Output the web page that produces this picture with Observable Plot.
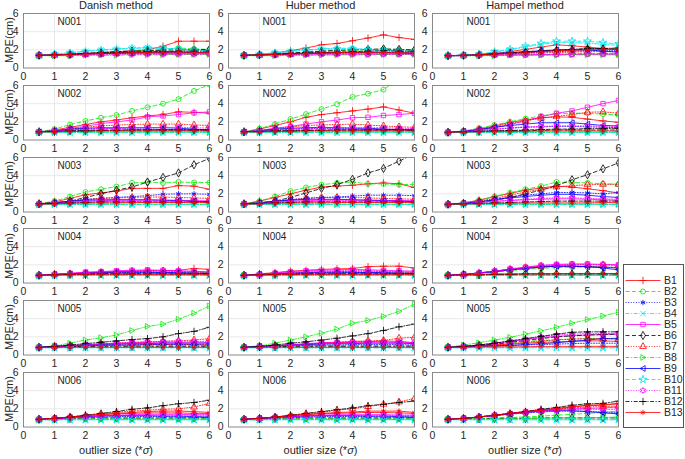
<!DOCTYPE html>
<html><head><meta charset="utf-8">
<script src="https://cdn.jsdelivr.net/npm/d3@7"></script>
<script src="https://cdn.jsdelivr.net/npm/@observablehq/plot@0.6"></script>
<style>
body{margin:0;background:#fff;}
#wrap{position:relative;width:685px;height:459px;overflow:hidden;background:#fff;font-family:"Liberation Sans",Arial,Helvetica,sans-serif;color:#262626;}
.title{position:absolute;font-size:11px;white-space:nowrap;transform:translateX(-50%);}
.ylab{position:absolute;font-size:11px;white-space:nowrap;line-height:12px;transform:translate(-50%,-50%) rotate(-90deg);}
</style></head>
<body><div id="wrap"></div>
<script>
const xs = [0.5,1,1.5,2,2.5,3,3.5,4,4.5,5,5.5,6];
const seriesNames = ["B1","B2","B3","B4","B5","B6","B7","B8","B9","B10","B11","B12","B13"];
const methodTitles = ["Danish method","Huber method","Hampel method"];
const datasetNames = ["N001","N002","N003","N004","N005","N006"];
const xTicks = [0,1,2,3,4,5,6];
const yTicks = [0,2,4,6];
const yLabel = "MPE(cm)";

// ---- Danish method ----
const danishN001 = [
[1.4,1.4,1.5,1.6,1.7,1.8,1.9,2.0,2.4,2.95,2.95,2.95],
[1.4,1.45,1.5,1.55,1.65,1.75,1.85,1.95,2.05,2.2,2.1,2.05],
[1.4,1.45,1.5,1.55,1.6,1.65,1.7,1.7,1.75,1.75,1.7,1.7],
[1.4,1.5,1.7,1.85,2.0,2.1,2.2,2.25,2.2,2.1,2.0,1.9],
[1.4,1.4,1.45,1.5,1.55,1.6,1.6,1.6,1.6,1.6,1.6,1.6],
[1.4,1.45,1.5,1.6,1.7,1.8,1.85,1.9,1.95,2.0,2.0,2.05],
[1.4,1.4,1.45,1.5,1.55,1.6,1.6,1.65,1.65,1.65,1.65,1.65],
[1.35,1.35,1.35,1.4,1.4,1.4,1.45,1.45,1.45,1.5,1.5,1.5],
[1.4,1.45,1.5,1.55,1.6,1.65,1.7,1.75,1.75,1.75,1.7,1.7],
[1.4,1.5,1.65,1.8,1.95,2.05,2.15,2.2,2.15,2.05,1.95,1.85],
[1.4,1.4,1.4,1.45,1.45,1.5,1.5,1.5,1.5,1.5,1.5,1.5],
[1.4,1.45,1.5,1.6,1.65,1.7,1.75,1.8,1.8,1.85,1.85,1.85],
[1.4,1.45,1.5,1.55,1.6,1.65,1.7,1.7,1.75,1.75,1.7,1.7]];
const danishN002 = [
[0.9,1.1,1.4,1.7,2.0,2.2,2.45,2.65,2.8,3.1,3.05,2.95],
[0.9,1.2,1.7,2.1,2.45,2.75,3.2,3.6,4.0,4.5,5.4,6.1],
[0.9,1.0,1.1,1.2,1.25,1.25,1.2,1.2,1.15,1.15,1.1,1.1],
[0.85,0.85,0.9,0.9,0.9,0.9,0.9,0.9,0.9,0.9,0.9,0.9],
[0.9,1.0,1.3,1.5,1.8,2.0,2.2,2.55,2.65,2.8,3.0,3.1],
[0.9,0.95,1.0,1.05,1.1,1.1,1.1,1.1,1.1,1.1,1.1,1.1],
[0.9,1.0,1.2,1.4,1.55,1.65,1.7,1.75,1.75,1.75,1.65,1.6],
[0.85,0.85,0.85,0.85,0.85,0.85,0.85,0.85,0.85,0.85,0.85,0.85],
[0.9,1.0,1.2,1.3,1.35,1.35,1.35,1.35,1.35,1.3,1.2,1.1],
[0.85,0.85,0.85,0.85,0.85,0.85,0.85,0.85,0.85,0.85,0.85,0.85],
[0.9,1.0,1.1,1.2,1.25,1.3,1.35,1.35,1.4,1.4,1.35,1.3],
[0.9,0.95,1.0,1.0,1.05,1.05,1.1,1.1,1.1,1.1,1.1,1.1],
[0.9,0.9,0.95,0.95,1.0,1.0,1.0,1.0,1.0,1.0,1.0,1.0]];
const danishN003 = [
[0.9,1.1,1.5,1.9,2.1,2.3,2.6,2.6,2.6,2.9,2.85,2.5],
[0.9,1.2,1.7,2.2,2.5,2.8,3.2,3.3,3.2,3.3,3.25,3.25],
[0.9,1.0,1.2,1.4,1.5,1.6,1.7,1.8,1.95,2.0,2.0,1.95],
[0.8,0.85,0.85,0.85,0.85,0.85,0.85,0.85,0.85,0.85,0.85,0.85],
[0.9,1.0,1.1,1.2,1.25,1.3,1.3,1.3,1.3,1.3,1.25,1.2],
[0.9,1.0,1.2,1.6,2.0,2.4,2.75,3.3,3.8,4.3,5.2,5.9],
[0.9,1.0,1.2,1.35,1.5,1.55,1.6,1.65,1.65,1.6,1.55,1.5],
[0.85,0.85,0.85,0.85,0.85,0.85,0.85,0.85,0.85,0.85,0.85,0.85],
[0.9,1.0,1.2,1.3,1.35,1.35,1.35,1.35,1.3,1.25,1.2,1.1],
[0.8,0.85,0.85,0.85,0.85,0.85,0.85,0.85,0.85,0.85,0.85,0.85],
[0.9,0.95,1.05,1.1,1.15,1.2,1.2,1.2,1.2,1.2,1.2,1.2],
[0.9,0.95,1.0,1.05,1.1,1.1,1.1,1.1,1.1,1.1,1.1,1.1],
[0.85,0.9,0.95,1.0,1.0,1.0,1.05,1.05,1.05,1.05,1.05,1.05]];
const danishN004 = [
[0.85,0.95,1.05,1.15,1.2,1.25,1.3,1.35,1.35,1.4,1.6,1.5],
[0.85,0.9,0.95,1.0,1.05,1.1,1.1,1.15,1.15,1.2,1.2,1.2],
[0.85,0.95,1.0,1.05,1.1,1.15,1.15,1.15,1.15,1.1,1.05,1.05],
[0.8,0.85,0.85,0.85,0.85,0.85,0.85,0.85,0.85,0.85,0.85,0.85],
[0.85,0.95,1.05,1.2,1.25,1.35,1.4,1.45,1.4,1.35,1.3,1.2],
[0.85,0.9,0.95,0.95,1.0,1.0,1.0,1.0,1.0,1.0,1.0,1.0],
[0.85,0.95,1.0,1.1,1.15,1.2,1.25,1.3,1.3,1.25,1.2,1.15],
[0.85,0.85,0.85,0.85,0.85,0.85,0.85,0.85,0.85,0.85,0.85,0.85],
[0.85,0.95,1.0,1.1,1.15,1.2,1.2,1.2,1.15,1.15,1.1,1.05],
[0.8,0.85,0.85,0.85,0.85,0.85,0.85,0.85,0.85,0.85,0.85,0.85],
[0.85,0.95,1.05,1.15,1.2,1.3,1.35,1.4,1.35,1.3,1.25,1.2],
[0.85,0.9,0.95,0.95,1.0,1.0,1.0,1.0,1.0,1.0,1.0,1.0],
[0.85,0.9,0.9,0.95,0.95,0.95,0.95,0.95,0.95,0.95,0.95,0.95]];
const danishN005 = [
[0.85,0.9,0.95,1.0,1.05,1.1,1.1,1.15,1.15,1.2,1.15,1.1],
[0.85,0.9,0.95,1.0,1.0,1.05,1.05,1.05,1.05,1.05,1.05,1.05],
[0.85,0.9,0.95,1.0,1.05,1.1,1.1,1.15,1.15,1.15,1.15,1.1],
[0.8,0.8,0.8,0.8,0.8,0.8,0.8,0.8,0.8,0.8,0.8,0.8],
[0.85,0.95,1.05,1.15,1.25,1.3,1.35,1.4,1.4,1.4,1.4,1.4],
[0.85,0.9,0.9,0.95,0.95,0.95,0.95,0.95,0.95,0.95,0.95,0.95],
[0.85,0.95,1.0,1.1,1.2,1.3,1.35,1.45,1.5,1.55,1.65,1.8],
[0.85,1.0,1.3,1.65,1.9,2.2,2.7,3.15,3.4,3.95,4.6,5.4],
[0.85,0.95,1.0,1.1,1.15,1.2,1.25,1.25,1.3,1.3,1.3,1.3],
[0.8,0.8,0.8,0.8,0.8,0.8,0.8,0.8,0.8,0.8,0.8,0.8],
[0.85,0.9,1.0,1.1,1.2,1.3,1.4,1.45,1.5,1.55,1.5,1.5],
[0.85,0.95,1.1,1.25,1.4,1.55,1.7,1.8,2.0,2.35,2.6,3.05],
[0.8,0.85,0.85,0.85,0.85,0.85,0.85,0.85,0.85,0.85,0.85,0.85]];
const danishN006 = [
[0.85,0.95,1.1,1.25,1.35,1.45,1.5,1.55,1.55,1.55,1.5,1.5],
[0.8,0.85,0.85,0.9,0.9,0.9,0.9,0.9,0.9,0.9,0.9,0.9],
[0.85,0.9,1.0,1.05,1.1,1.15,1.15,1.15,1.15,1.1,1.1,1.05],
[0.8,0.8,0.8,0.8,0.8,0.8,0.8,0.8,0.8,0.8,0.8,0.8],
[0.85,0.95,1.05,1.15,1.25,1.3,1.35,1.4,1.4,1.4,1.35,1.35],
[0.85,0.9,0.95,1.0,1.0,1.0,1.0,1.0,1.0,1.0,1.0,1.0],
[0.85,0.95,1.1,1.25,1.45,1.6,1.75,1.85,1.95,2.0,2.2,2.6],
[0.8,0.8,0.85,0.85,0.85,0.85,0.85,0.85,0.85,0.85,0.85,0.85],
[0.85,0.95,1.05,1.15,1.2,1.25,1.25,1.25,1.2,1.2,1.15,1.1],
[0.8,0.8,0.8,0.8,0.8,0.8,0.8,0.8,0.8,0.8,0.8,0.8],
[0.85,0.9,1.0,1.1,1.2,1.25,1.3,1.3,1.3,1.3,1.3,1.3],
[0.85,0.95,1.1,1.3,1.5,1.7,1.95,2.1,2.35,2.55,2.7,2.95],
[0.85,0.95,1.1,1.25,1.4,1.5,1.6,1.7,1.75,1.75,1.7,1.6]];

// ---- Huber method ----
const huberN001 = [
[1.4,1.5,1.65,1.9,2.2,2.55,2.7,3.0,3.3,3.65,3.35,3.15],
[1.4,1.45,1.5,1.6,1.7,1.8,1.9,1.95,2.0,2.1,2.0,1.95],
[1.4,1.45,1.5,1.55,1.6,1.65,1.7,1.7,1.75,1.75,1.7,1.7],
[1.4,1.5,1.7,1.85,2.0,2.1,2.2,2.15,2.05,1.95,1.9,1.85],
[1.4,1.4,1.45,1.5,1.55,1.55,1.55,1.55,1.55,1.55,1.55,1.55],
[1.4,1.45,1.55,1.65,1.75,1.85,1.95,2.0,2.05,2.1,2.05,2.0],
[1.4,1.4,1.45,1.5,1.55,1.6,1.6,1.65,1.65,1.65,1.65,1.6],
[1.35,1.35,1.35,1.4,1.4,1.4,1.45,1.45,1.45,1.5,1.5,1.5],
[1.4,1.45,1.5,1.55,1.6,1.65,1.7,1.7,1.7,1.7,1.65,1.6],
[1.4,1.5,1.65,1.8,1.95,2.05,2.1,2.1,2.0,1.95,1.85,1.8],
[1.4,1.4,1.4,1.45,1.45,1.5,1.5,1.5,1.5,1.5,1.5,1.5],
[1.4,1.45,1.5,1.6,1.65,1.7,1.75,1.8,1.85,1.9,1.85,1.85],
[1.4,1.45,1.5,1.55,1.6,1.65,1.7,1.7,1.7,1.7,1.7,1.65]];
const huberN002 = [
[0.9,1.2,1.6,2.0,2.5,2.8,3.0,3.2,3.4,3.65,3.3,2.95],
[0.9,1.25,1.75,2.3,2.85,3.4,3.95,4.75,5.1,5.55,6.7,7.6],
[0.9,1.0,1.1,1.2,1.25,1.25,1.25,1.2,1.2,1.15,1.15,1.1],
[0.85,0.85,0.9,0.9,0.9,0.9,0.9,0.9,0.9,0.9,0.9,0.9],
[0.9,1.05,1.3,1.5,1.75,2.0,2.2,2.45,2.5,2.7,2.8,2.95],
[0.9,0.95,1.0,1.05,1.1,1.1,1.1,1.1,1.1,1.1,1.1,1.05],
[0.9,1.0,1.25,1.45,1.6,1.65,1.7,1.75,1.65,1.55,1.45,1.4],
[0.85,0.85,0.85,0.85,0.85,0.85,0.85,0.85,0.85,0.85,0.85,0.85],
[0.9,1.0,1.2,1.3,1.35,1.4,1.35,1.3,1.3,1.2,1.15,1.1],
[0.85,0.85,0.85,0.85,0.85,0.85,0.85,0.85,0.85,0.85,0.85,0.85],
[0.9,1.0,1.1,1.2,1.25,1.3,1.35,1.35,1.35,1.35,1.3,1.25],
[0.9,0.95,1.0,1.0,1.05,1.05,1.1,1.1,1.1,1.1,1.1,1.1],
[0.9,0.9,0.95,0.95,1.0,1.0,1.0,1.0,1.0,1.0,1.0,1.0]];
const huberN003 = [
[0.9,1.2,1.6,2.0,2.4,2.75,2.85,2.95,3.1,3.2,3.1,2.7],
[0.9,1.2,1.7,2.3,2.7,3.0,3.2,3.3,3.1,3.1,3.0,3.05],
[0.9,1.0,1.2,1.35,1.5,1.6,1.65,1.75,1.85,1.85,1.85,1.8],
[0.8,0.85,0.85,0.85,0.85,0.85,0.85,0.85,0.85,0.85,0.85,0.85],
[0.9,1.0,1.1,1.2,1.25,1.3,1.3,1.3,1.3,1.3,1.25,1.25],
[0.9,1.0,1.2,1.6,2.1,2.6,3.0,3.6,4.3,4.8,5.6,6.4],
[0.9,1.0,1.2,1.35,1.5,1.6,1.6,1.6,1.55,1.5,1.45,1.4],
[0.85,0.85,0.85,0.85,0.85,0.85,0.85,0.85,0.85,0.85,0.85,0.85],
[0.9,1.0,1.2,1.3,1.4,1.4,1.4,1.35,1.3,1.25,1.2,1.15],
[0.8,0.85,0.85,0.85,0.85,0.85,0.85,0.85,0.85,0.85,0.85,0.85],
[0.9,0.95,1.05,1.1,1.15,1.2,1.2,1.2,1.2,1.2,1.2,1.2],
[0.9,0.95,1.0,1.05,1.1,1.1,1.1,1.1,1.1,1.1,1.1,1.1],
[0.85,0.9,0.95,1.0,1.0,1.0,1.05,1.05,1.05,1.05,1.05,1.05]];
const huberN004 = [
[0.85,1.0,1.15,1.3,1.4,1.5,1.55,1.6,1.8,1.85,1.85,1.65],
[0.85,0.9,0.95,1.0,1.05,1.1,1.1,1.15,1.15,1.2,1.2,1.2],
[0.85,0.95,1.0,1.05,1.1,1.15,1.15,1.15,1.15,1.1,1.05,1.05],
[0.8,0.85,0.85,0.85,0.85,0.85,0.85,0.85,0.85,0.85,0.85,0.85],
[0.85,0.95,1.1,1.25,1.35,1.4,1.45,1.5,1.45,1.4,1.35,1.3],
[0.85,0.9,0.95,0.95,1.0,1.0,1.0,1.0,1.0,1.0,1.0,1.0],
[0.85,0.95,1.0,1.1,1.15,1.2,1.25,1.3,1.3,1.25,1.2,1.15],
[0.85,0.85,0.85,0.85,0.85,0.85,0.85,0.85,0.85,0.85,0.85,0.85],
[0.85,0.95,1.0,1.1,1.15,1.2,1.2,1.2,1.15,1.15,1.1,1.05],
[0.8,0.85,0.85,0.85,0.85,0.85,0.85,0.85,0.85,0.85,0.85,0.85],
[0.85,0.95,1.05,1.2,1.25,1.3,1.35,1.4,1.35,1.3,1.25,1.2],
[0.85,0.9,0.95,0.95,1.0,1.0,1.0,1.0,1.0,1.0,1.0,1.0],
[0.85,0.9,0.9,0.95,0.95,0.95,0.95,0.95,0.95,0.95,0.95,0.95]];
const huberN005 = [
[0.85,0.9,1.0,1.1,1.2,1.3,1.35,1.4,1.45,1.55,1.5,1.35],
[0.85,0.9,0.95,1.0,1.0,1.05,1.05,1.05,1.05,1.05,1.05,1.05],
[0.85,0.9,0.95,1.0,1.05,1.1,1.1,1.15,1.15,1.15,1.15,1.1],
[0.8,0.8,0.8,0.8,0.8,0.8,0.8,0.8,0.8,0.8,0.8,0.8],
[0.85,0.95,1.05,1.15,1.25,1.35,1.4,1.45,1.45,1.45,1.4,1.35],
[0.85,0.9,0.9,0.95,0.95,0.95,0.95,0.95,0.95,0.95,0.95,0.95],
[0.85,0.95,1.0,1.1,1.2,1.3,1.4,1.5,1.55,1.6,1.85,1.95],
[0.85,1.0,1.3,1.65,2.0,2.4,2.85,3.5,3.8,4.25,4.8,5.6],
[0.85,0.95,1.0,1.1,1.15,1.2,1.25,1.25,1.3,1.3,1.3,1.25],
[0.8,0.8,0.8,0.8,0.8,0.8,0.8,0.8,0.8,0.8,0.8,0.8],
[0.85,0.9,1.0,1.1,1.2,1.3,1.35,1.4,1.4,1.4,1.35,1.3],
[0.85,0.95,1.1,1.3,1.45,1.65,1.85,2.1,2.35,2.7,3.1,3.4],
[0.8,0.85,0.85,0.85,0.85,0.85,0.85,0.85,0.85,0.85,0.85,0.85]];
const huberN006 = [
[0.85,0.95,1.1,1.25,1.35,1.45,1.5,1.55,1.6,1.6,1.55,1.5],
[0.8,0.85,0.85,0.9,0.9,0.9,0.9,0.9,0.9,0.9,0.9,0.9],
[0.85,0.9,1.0,1.05,1.1,1.15,1.15,1.15,1.15,1.1,1.1,1.05],
[0.8,0.8,0.8,0.8,0.8,0.8,0.8,0.8,0.8,0.8,0.8,0.8],
[0.85,0.95,1.05,1.15,1.25,1.3,1.35,1.35,1.35,1.35,1.3,1.3],
[0.85,0.9,0.95,1.0,1.0,1.0,1.0,1.0,1.0,1.0,1.0,1.0],
[0.85,0.95,1.1,1.25,1.45,1.6,1.85,2.0,2.25,2.5,2.75,3.15],
[0.8,0.8,0.85,0.85,0.85,0.85,0.85,0.85,0.85,0.85,0.85,0.85],
[0.85,0.95,1.05,1.15,1.2,1.25,1.25,1.25,1.2,1.2,1.15,1.1],
[0.8,0.8,0.8,0.8,0.8,0.8,0.8,0.8,0.8,0.8,0.8,0.8],
[0.85,0.9,1.0,1.1,1.2,1.25,1.3,1.3,1.3,1.3,1.3,1.3],
[0.85,0.95,1.1,1.3,1.5,1.7,1.9,2.1,2.35,2.5,2.7,2.85],
[0.85,0.95,1.1,1.25,1.4,1.5,1.6,1.65,1.75,1.75,1.75,1.6]];

// ---- Hampel method ----
const hampelN001 = [
[1.35,1.4,1.45,1.6,1.8,2.05,2.3,2.55,2.45,2.3,2.15,2.0],
[1.35,1.35,1.4,1.4,1.45,1.45,1.5,1.5,1.55,1.6,1.6,1.6],
[1.35,1.4,1.45,1.5,1.6,1.65,1.75,1.8,1.85,1.9,1.9,1.9],
[1.35,1.4,1.5,1.75,2.0,2.3,2.6,2.8,2.8,2.75,2.6,2.5],
[1.35,1.35,1.4,1.4,1.45,1.45,1.45,1.5,1.5,1.5,1.5,1.5],
[1.35,1.4,1.45,1.55,1.65,1.75,1.85,1.95,2.0,2.1,2.1,2.1],
[1.35,1.4,1.45,1.5,1.55,1.6,1.65,1.7,1.75,1.8,1.8,1.8],
[1.35,1.35,1.35,1.35,1.4,1.4,1.4,1.4,1.45,1.45,1.45,1.45],
[1.35,1.4,1.5,1.6,1.7,1.8,1.9,2.0,2.0,2.0,1.85,1.75],
[1.35,1.4,1.5,1.8,2.05,2.4,2.7,2.95,2.95,2.95,2.8,2.65],
[1.35,1.35,1.4,1.4,1.45,1.45,1.5,1.5,1.5,1.55,1.55,1.55],
[1.35,1.4,1.45,1.55,1.65,1.75,1.85,1.95,2.05,2.15,2.15,2.2],
[1.35,1.4,1.45,1.55,1.6,1.7,1.8,1.9,1.95,2.0,2.05,2.05]];
const hampelN002 = [
[0.85,0.95,1.2,1.55,1.95,2.2,2.45,2.55,2.5,2.3,2.1,1.95],
[0.85,1.0,1.3,1.65,2.0,2.35,2.65,2.9,2.95,2.95,2.85,2.75],
[0.85,0.95,1.05,1.15,1.3,1.4,1.45,1.5,1.5,1.45,1.4,1.35],
[0.8,0.85,0.85,0.85,0.85,0.85,0.85,0.85,0.85,0.85,0.85,0.85],
[0.85,0.95,1.1,1.35,1.7,2.1,2.55,2.95,3.2,3.6,4.0,4.35],
[0.85,0.9,0.95,1.0,1.0,1.05,1.05,1.1,1.1,1.1,1.1,1.1],
[0.85,0.95,1.15,1.45,1.8,2.1,2.4,2.6,2.8,3.05,3.1,2.95],
[0.85,0.85,0.85,0.85,0.85,0.85,0.85,0.85,0.85,0.85,0.85,0.85],
[0.85,0.95,1.15,1.4,1.6,1.75,1.9,1.9,1.9,1.75,1.6,1.55],
[0.8,0.85,0.85,0.85,0.85,0.85,0.85,0.85,0.85,0.85,0.85,0.85],
[0.85,0.95,1.05,1.2,1.35,1.45,1.5,1.55,1.55,1.55,1.5,1.5],
[0.85,0.9,0.95,1.0,1.05,1.1,1.15,1.2,1.2,1.25,1.25,1.3],
[0.85,0.9,0.9,0.95,0.95,0.95,1.0,1.0,1.0,1.0,1.0,1.0]];
const hampelN003 = [
[0.85,1.0,1.3,1.7,2.05,2.4,2.65,2.85,2.75,2.55,2.35,2.1],
[0.85,1.0,1.3,1.7,2.1,2.5,2.85,3.3,3.25,3.2,3.1,3.05],
[0.85,0.95,1.15,1.4,1.65,1.85,2.0,2.15,2.15,2.1,2.0,2.15],
[0.8,0.85,0.85,0.85,0.85,0.85,0.85,0.85,0.85,0.85,0.85,0.85],
[0.85,0.95,1.05,1.15,1.25,1.35,1.4,1.45,1.45,1.4,1.35,1.3],
[0.85,0.95,1.1,1.3,1.6,2.0,2.4,2.9,3.55,4.1,4.75,5.4],
[0.85,0.95,1.2,1.5,1.85,2.2,2.5,2.75,2.9,3.0,3.05,3.05],
[0.85,0.85,0.85,0.85,0.85,0.85,0.85,0.85,0.85,0.85,0.85,0.85],
[0.85,0.95,1.1,1.35,1.55,1.7,1.85,1.95,1.95,1.85,1.7,1.6],
[0.8,0.85,0.85,0.85,0.85,0.85,0.85,0.85,0.85,0.85,0.85,0.85],
[0.85,0.95,1.05,1.2,1.3,1.4,1.5,1.55,1.55,1.5,1.45,1.4],
[0.85,0.9,0.95,1.0,1.05,1.1,1.15,1.2,1.2,1.2,1.2,1.2],
[0.85,0.9,0.9,0.95,0.95,1.0,1.0,1.0,1.0,1.0,1.05,1.05]];
const hampelN004 = [
[0.85,0.95,1.1,1.3,1.5,1.65,1.8,1.85,1.85,1.8,1.75,1.65],
[0.85,0.95,1.05,1.2,1.35,1.5,1.6,1.7,1.75,1.75,1.75,1.7],
[0.85,0.95,1.1,1.25,1.45,1.6,1.75,1.85,1.85,1.8,1.75,1.7],
[0.8,0.85,0.85,0.85,0.85,0.85,0.85,0.85,0.85,0.85,0.85,0.85],
[0.85,0.95,1.1,1.3,1.55,1.75,1.95,2.05,2.1,2.1,2.05,2.0],
[0.85,0.9,0.9,0.95,0.95,1.0,1.0,1.0,1.0,1.0,1.0,1.0],
[0.85,0.95,1.1,1.3,1.5,1.7,1.85,1.95,2.0,2.0,2.0,1.95],
[0.85,0.85,0.85,0.85,0.85,0.85,0.85,0.85,0.85,0.85,0.85,0.85],
[0.85,0.95,1.1,1.25,1.45,1.6,1.75,1.85,1.85,1.8,1.65,1.45],
[0.8,0.85,0.85,0.85,0.85,0.85,0.85,0.85,0.85,0.85,0.85,0.85],
[0.85,0.95,1.1,1.3,1.5,1.7,1.9,2.0,2.05,2.05,2.0,2.0],
[0.85,0.9,0.9,0.95,0.95,1.0,1.0,1.0,1.0,1.0,1.0,1.0],
[0.85,0.9,0.95,1.0,1.0,1.0,1.0,1.0,1.05,1.05,1.05,1.05]];
const hampelN005 = [
[0.85,0.9,1.0,1.1,1.2,1.3,1.4,1.45,1.5,1.55,1.55,1.5],
[0.85,0.95,1.05,1.2,1.35,1.5,1.6,1.7,1.75,1.8,1.8,1.85],
[0.85,0.9,0.95,1.0,1.05,1.1,1.15,1.2,1.25,1.3,1.3,1.3],
[0.8,0.8,0.8,0.8,0.8,0.8,0.8,0.8,0.8,0.8,0.8,0.8],
[0.85,0.95,1.1,1.3,1.5,1.7,1.9,2.05,2.15,2.2,2.25,2.3],
[0.85,0.95,1.05,1.2,1.4,1.6,1.8,2.0,2.1,2.2,2.25,2.3],
[0.85,0.9,1.0,1.1,1.25,1.4,1.55,1.65,1.75,1.8,1.8,1.75],
[0.85,1.1,1.35,1.65,1.95,2.3,2.65,3.05,3.5,3.9,4.3,4.7],
[0.85,0.9,0.95,1.0,1.05,1.15,1.25,1.35,1.5,1.65,1.8,1.8],
[0.8,0.8,0.8,0.8,0.8,0.8,0.8,0.8,0.8,0.8,0.8,0.8],
[0.85,0.95,1.1,1.3,1.5,1.75,2.0,2.2,2.3,2.35,2.35,2.4],
[0.85,0.95,1.1,1.3,1.55,1.8,2.05,2.3,2.5,2.55,2.55,2.55],
[0.85,0.85,0.9,0.9,0.9,0.9,0.95,0.95,0.95,0.95,0.95,0.95]];
const hampelN006 = [
[0.85,0.95,1.1,1.3,1.5,1.7,1.9,2.05,2.25,2.4,2.45,2.6],
[0.85,0.9,0.95,1.0,1.05,1.1,1.2,1.3,1.4,1.5,1.6,1.75],
[0.85,0.95,1.1,1.25,1.4,1.55,1.65,1.75,1.75,1.7,1.65,1.6],
[0.8,0.8,0.8,0.8,0.8,0.8,0.8,0.8,0.8,0.8,0.8,0.8],
[0.85,0.95,1.1,1.3,1.45,1.65,1.8,1.9,2.0,2.05,2.1,2.2],
[0.85,0.9,0.9,0.95,0.95,0.95,1.0,1.0,1.0,1.0,1.0,1.0],
[0.85,0.95,1.1,1.3,1.45,1.65,1.8,1.95,2.1,2.2,2.25,2.3],
[0.85,0.9,0.9,0.9,0.95,0.95,0.95,1.0,1.0,1.0,1.05,1.1],
[0.85,0.95,1.1,1.25,1.45,1.6,1.75,1.8,1.8,1.7,1.55,1.45],
[0.8,0.8,0.8,0.8,0.8,0.8,0.8,0.8,0.8,0.8,0.8,0.8],
[0.85,0.95,1.1,1.3,1.45,1.6,1.75,1.85,1.9,1.95,1.95,1.95],
[0.85,0.95,1.1,1.3,1.5,1.7,1.95,2.15,2.4,2.55,2.6,2.85],
[0.85,0.95,1.1,1.3,1.5,1.7,1.85,2.0,2.2,2.35,2.4,2.55]];

// ---- styles (MATLAB-like) ----
const seriesColors = ["#ff0000","#00ee00","#0000ff","#00e5ee","#ff00ff","#000000","#ff0000","#00ee00","#0000ff","#00e5ee","#ff00ff","#000000","#ff0000"];
const seriesDash = [null,"4,2.5","1,1.6","4,1.6,1,1.6",null,"4,2.5","1,1.6","4,1.6,1,1.6",null,"4,2.5","1,1.6","4,1.6,1,1.6",null];

const rad = s => Math.sqrt(s / Math.PI);
const triRight = {draw(c, s){ const r = rad(s)*1.15; c.moveTo(r,0); c.lineTo(-r*0.75,-r); c.lineTo(-r*0.75,r); c.closePath(); }};
const triLeft = {draw(c, s){ const r = rad(s)*1.15; c.moveTo(-r,0); c.lineTo(r*0.75,-r); c.lineTo(r*0.75,r); c.closePath(); }};
const hexagram = {draw(c, s){ const r = rad(s)*1.2; for (let k=0;k<12;k++){ const a = -Math.PI/2 + k*Math.PI/6; const rr = k%2 ? r*0.58 : r; const px = rr*Math.cos(a), py = rr*Math.sin(a); if(k===0) c.moveTo(px,py); else c.lineTo(px,py);} c.closePath(); }};
const seriesSymbols = ["plus","circle","asterisk","times","square","diamond","triangle",triRight,triLeft,"star",hexagram,"plus","asterisk"];

const panelData = [
  [danishN001,danishN002,danishN003,danishN004,danishN005,danishN006],
  [huberN001,huberN002,huberN003,huberN004,huberN005,huberN006],
  [hampelN001,hampelN002,hampelN003,hampelN004,hampelN005,hampelN006]
];

// ---- layout ----
const colLeft = [23, 227.5, 432];
const frameW = 186, frameH = 54.5;
const rowTop = datasetNames.map((_, i) => 13 + 71.8 * i);
const mL = 23, mR = 6, mT = 10, mB = 16;
const font = '"Liberation Sans", Arial, Helvetica, sans-serif';
const wrap = document.getElementById("wrap");

function place(el, left, top) {
  el.style.position = "absolute"; el.style.left = left + "px"; el.style.top = top + "px";
  wrap.appendChild(el);
}

methodTitles.forEach((title, c) => {
  datasetNames.forEach((ds, r) => {
    const arr = panelData[c][r];
    const marks = [
      Plot.gridX(xTicks, {stroke: "#e3e3e3", strokeOpacity: 1, strokeWidth: 0.8}),
      Plot.gridY(yTicks.slice(1, 3), {stroke: "#e3e3e3", strokeOpacity: 1, strokeWidth: 0.8})
    ];
    seriesNames.forEach((name, s) => {
      const rows = xs.map((x, i) => ({x, y: arr[s][i], series: name}));
      marks.push(Plot.line(rows, {x: "x", y: "y", stroke: seriesColors[s], strokeWidth: 0.8,
        strokeDasharray: seriesDash[s] ?? undefined, clip: true}));
      marks.push(Plot.dot(rows, {x: "x", y: "y", stroke: seriesColors[s], fill: "none", strokeWidth: 0.8,
        r: 2.5, symbol: seriesSymbols[s], clip: true}));
    });
    marks.push(Plot.frame({stroke: "#8a8a8a", strokeWidth: 1}));
    marks.push(Plot.axisX(xTicks, {tickSize: 0, tickPadding: 5, label: null, fontSize: 10.5}));
    marks.push(Plot.axisY(yTicks, {tickSize: 0, tickPadding: 5, label: null, fontSize: 10.5}));
    marks.push(Plot.text([ds], {frameAnchor: "top-left", dx: 34, dy: 4, lineAnchor: "top", textAnchor: "start", fontSize: 10, fill: "#262626"}));
    const svg = Plot.plot({
      width: frameW + mL + mR, height: frameH + mT + mB,
      marginLeft: mL, marginRight: mR, marginTop: mT, marginBottom: mB,
      x: {domain: [0, 6]}, y: {domain: [0, 6]},
      style: {fontFamily: font, fontSize: "10px", color: "#262626", background: "transparent", overflow: "visible"},
      marks
    });
    place(svg, colLeft[c] - mL, rowTop[r] - mT);
    if (c === 0) {
      const yl = document.createElement("div");
      yl.className = "ylab"; yl.textContent = yLabel;
      yl.style.left = "8.5px"; yl.style.top = (rowTop[r] + frameH / 2) + "px";
      wrap.appendChild(yl);
    }
  });
  const t = document.createElement("div");
  t.className = "title"; t.textContent = title;
  t.style.left = (colLeft[c] + frameW / 2) + "px"; t.style.top = "-1px";
  wrap.appendChild(t);
  const xl = document.createElement("div");
  xl.className = "title"; xl.innerHTML = "outlier size (*<i>σ</i>)";
  xl.style.left = (colLeft[c] + frameW / 2) + "px"; xl.style.top = "444px";
  wrap.appendChild(xl);
});

// ---- legend ----
const legW = 60, legH = 163;
const legMarks = [Plot.frame({stroke: "#555", strokeWidth: 1, fill: "#fff"})];
seriesNames.forEach((name, s) => {
  legMarks.push(Plot.link([name], {x1: 2, x2: 37, y1: d => d, y2: d => d, stroke: seriesColors[s], strokeWidth: 0.8,
    strokeDasharray: seriesDash[s] ?? undefined}));
  legMarks.push(Plot.dot([name], {x: 19.5, y: d => d, stroke: seriesColors[s], fill: "none", strokeWidth: 0.8, r: 2.5, symbol: seriesSymbols[s]}));
});
legMarks.push(Plot.text(seriesNames, {x: 40.5, y: d => d, text: d => d, textAnchor: "start", fontSize: 10.5, fill: "#262626"}));
const legend = Plot.plot({
  width: legW, height: legH, margin: 0,
  x: {domain: [0, legW], range: [0, legW], axis: null},
  y: {type: "point", domain: seriesNames, range: [6.5, 156.5], axis: null},
  style: {fontFamily: font, fontSize: "10px", color: "#262626", background: "transparent", overflow: "visible"},
  marks: legMarks
});
place(legend, 622.5, 263.5);
</script>
</body></html>
